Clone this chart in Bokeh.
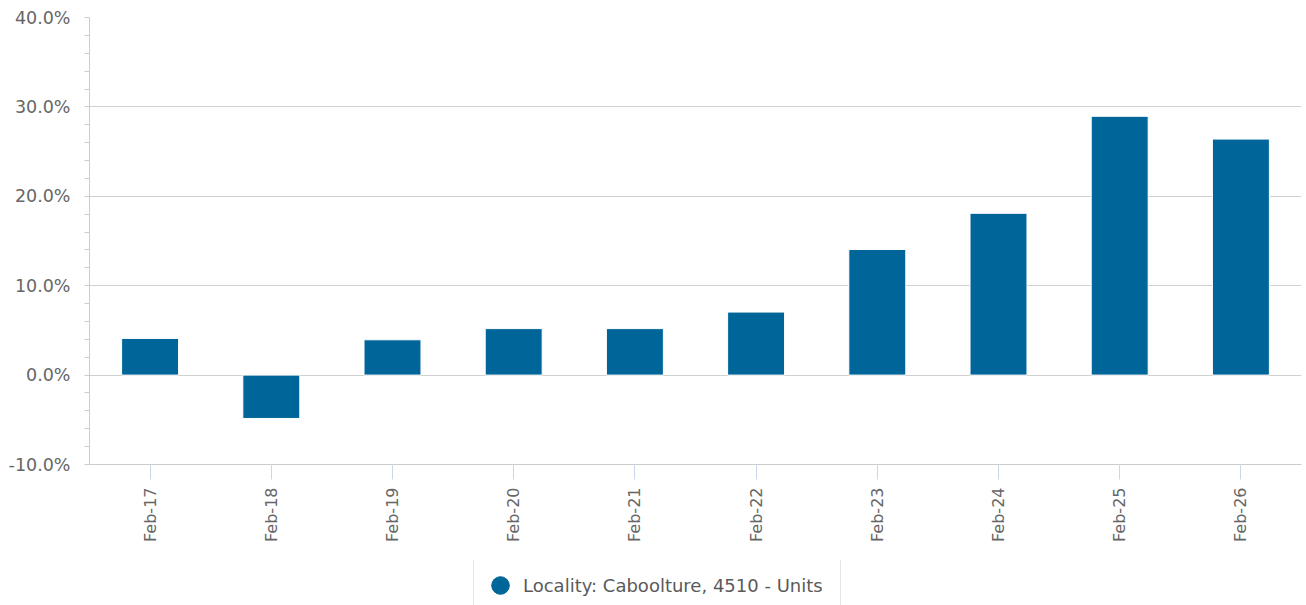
from math import pi
from bokeh.plotting import figure
from bokeh.layouts import column
from bokeh.models import (FixedTicker, PrintfTickFormatter, Legend, LegendItem,
                          ColumnDataSource, Range1d, FactorRange)
from bokeh.embed import file_html
from bokeh.resources import INLINE

categories = ["Feb-17", "Feb-18", "Feb-19", "Feb-20", "Feb-21",
              "Feb-22", "Feb-23", "Feb-24", "Feb-25", "Feb-26"]
values = [4.1, -4.85, 3.95, 5.2, 5.2, 7.05, 14.05, 18.1, 28.95, 26.4]
series_name = "Locality: Caboolture, 4510 - Units"
y_ticks = [-10, 0, 10, 20, 30, 40]
y_minor_ticks = [-8, -6, -4, -2, 2, 4, 6, 8, 12, 14, 16, 18, 22, 24, 26, 28,
                 32, 34, 36, 38]

BAR = "#006699"
FONT = "DejaVu Sans"

p = figure(x_range=FactorRange(*categories, range_padding=0),
           y_range=Range1d(-10, 40),
           width=1302, height=560,
           output_backend="svg", toolbar_location=None,
           min_border_left=89, min_border_right=1,
           min_border_top=17, min_border_bottom=96)
p.outline_line_color = None
p.background_fill_color = "white"
p.border_fill_color = "white"

src = ColumnDataSource(data=dict(x=categories, top=values))
p.vbar(x="x", top="top", bottom=0, width=0.47, source=src,
       fill_color=BAR, line_color="white", line_width=1)

ticker = FixedTicker(ticks=y_ticks, minor_ticks=y_minor_ticks)
yax = p.yaxis[0]
yax.ticker = ticker
yax.formatter = PrintfTickFormatter(format="%.1f%%")
yax.major_tick_out = 5
yax.major_tick_in = 0
yax.minor_tick_out = 5
yax.minor_tick_in = 0
yax.axis_line_color = "#cccccc"
yax.major_tick_line_color = "#cccccc"
yax.minor_tick_line_color = "#cccccc"
yax.major_label_text_color = "#666666"
yax.major_label_text_font = FONT
yax.major_label_text_font_size = "17.5px"
yax.major_label_standoff = 14

xax = p.xaxis[0]
xax.major_tick_out = 15
xax.major_tick_in = 0
xax.major_tick_line_color = "#ccd6eb"
xax.axis_line_color = "#cccccc"
xax.major_label_orientation = pi / 2
xax.major_label_standoff = 8
xax.major_label_text_color = "#666666"
xax.major_label_text_font = FONT
xax.major_label_text_font_size = "16px"

p.xgrid.visible = False
p.ygrid.ticker = ticker
p.ygrid.grid_line_color = "#d0d0d0"

# legend strip below the chart
lg = figure(width=1302, height=45, x_range=Range1d(0, 1302), y_range=Range1d(0, 45),
            output_backend="svg", toolbar_location=None,
            x_axis_location=None, y_axis_location=None,
            min_border=0, min_border_left=0, min_border_right=0,
            min_border_top=0, min_border_bottom=0)
lg.outline_line_color = None
lg.xgrid.visible = False
lg.ygrid.visible = False
dummy = lg.scatter(x="x", y="y",
                   source=ColumnDataSource(data=dict(x=[-500], y=[-500])),
                   marker="circle", size=18, fill_color=BAR, line_color=BAR)

legend = Legend(items=[LegendItem(label=series_name, renderers=[dummy])],
                location=(384, -7), orientation="horizontal",
                padding=4, glyph_width=44, glyph_height=44, label_standoff=1,
                label_width=313,
                spacing=0, margin=0,
                label_text_font=FONT, label_text_font_size="18px",
                label_text_color="#5a5a5a",
                border_line_color="#e6e6e6", border_line_alpha=1,
                background_fill_color="white", background_fill_alpha=1)
lg.add_layout(legend)

layout = column(p, lg, spacing=0)
open("out.html", "w").write(file_html(layout, INLINE))
